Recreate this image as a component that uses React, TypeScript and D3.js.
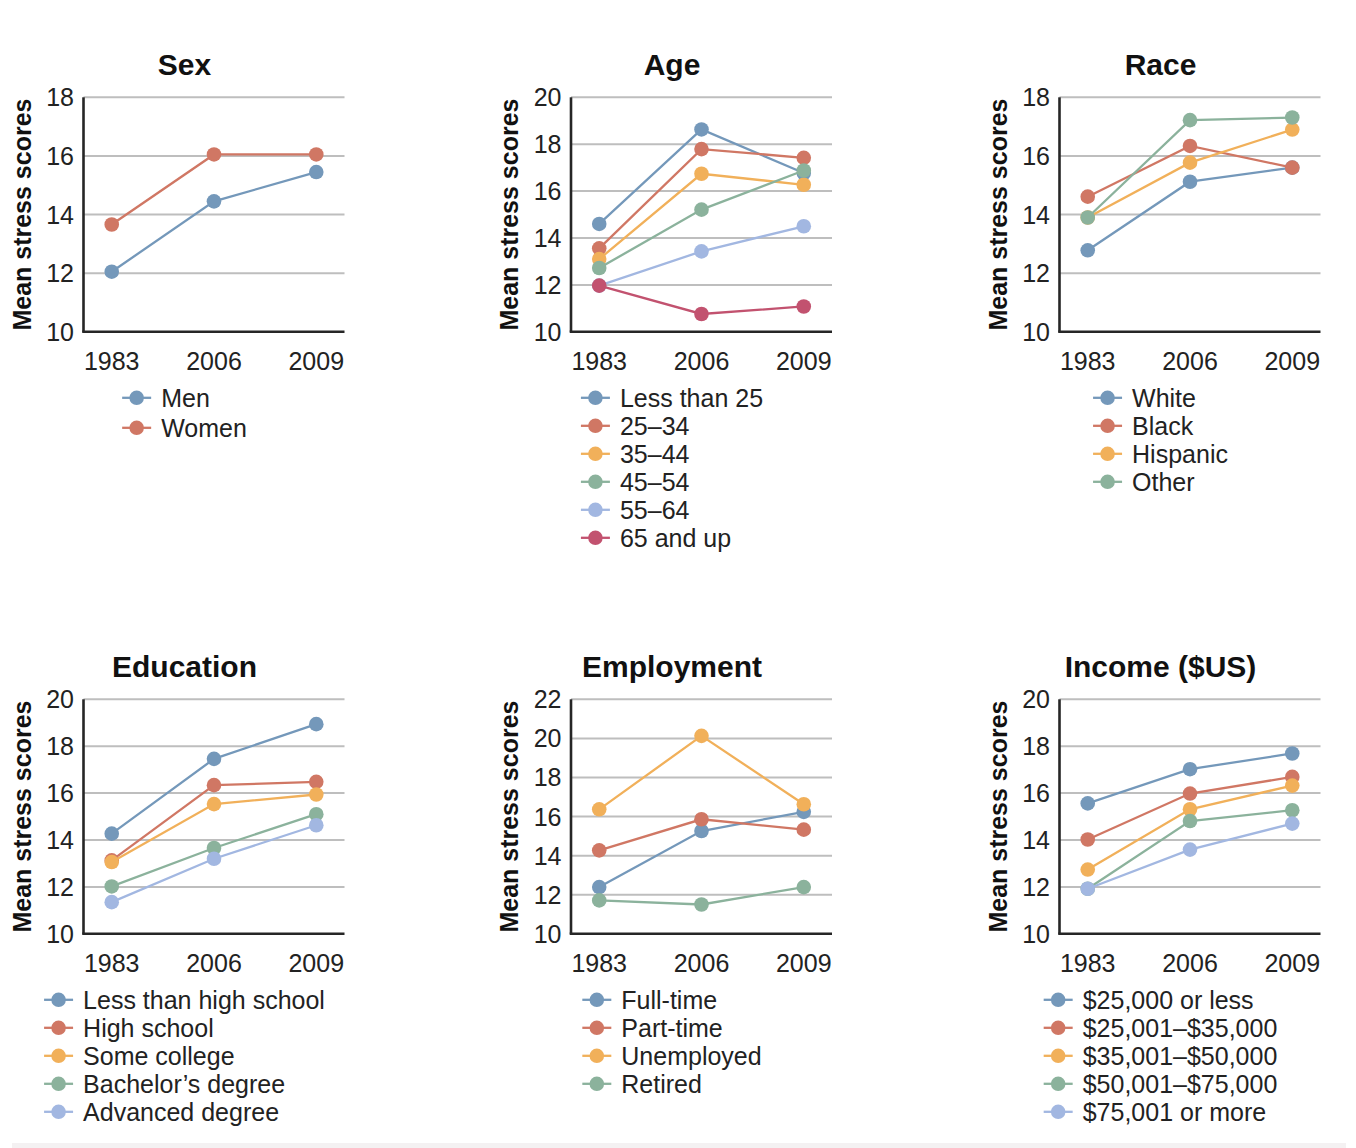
import React, { useEffect, useRef } from "react";
import * as d3 from "d3";

// Survey years on the x axis
const years = ["1983", "2006", "2009"];

// Series palette
const palette = ["#7498ba", "#d07764", "#f1b05a", "#8bb29c", "#a2b7e1", "#c2526f"];

// Sex
const sexLabels = ["Men", "Women"];
const sexValues = [
  [12.05, 14.45, 15.45],
  [13.66, 16.05, 16.05],
];

// Age
const ageLabels = ["Less than 25", "25–34", "35–44", "45–54", "55–64", "65 and up"];
const ageValues = [
  [14.6, 18.63, 16.77],
  [13.56, 17.79, 17.42],
  [13.1, 16.74, 16.27],
  [12.72, 15.21, 16.88],
  [11.97, 13.43, 14.5],
  [11.97, 10.76, 11.08],
];

// Race
const raceLabels = ["White", "Black", "Hispanic", "Other"];
const raceValues = [
  [12.78, 15.12, 15.6],
  [14.61, 16.34, 15.6],
  [13.9, 15.77, 16.9],
  [13.9, 17.22, 17.31],
];

// Education
const eduLabels = [
  "Less than high school",
  "High school",
  "Some college",
  "Bachelor’s degree",
  "Advanced degree",
];
const eduValues = [
  [14.27, 17.46, 18.94],
  [13.13, 16.34, 16.48],
  [13.06, 15.53, 15.94],
  [12.02, 13.66, 15.1],
  [11.35, 13.2, 14.63],
];

// Employment
const empLabels = ["Full-time", "Part-time", "Unemployed", "Retired"];
const empValues = [
  [12.39, 15.26, 16.24],
  [14.27, 15.86, 15.33],
  [16.37, 20.13, 16.63],
  [11.71, 11.5, 12.39],
];

// Income
const incLabels = [
  "$25,000 or less",
  "$25,001–$35,000",
  "$35,001–$50,000",
  "$50,001–$75,000",
  "$75,001 or more",
];
const incValues = [
  [15.56, 17.02, 17.69],
  [14.02, 15.98, 16.69],
  [12.74, 15.31, 16.32],
  [11.92, 14.81, 15.27],
  [11.92, 13.59, 14.7],
];

// Y-axis ranges per panel
const sexTicks = [10, 12, 14, 16, 18];
const ageTicks = [10, 12, 14, 16, 18, 20];
const raceTicks = [10, 12, 14, 16, 18];
const eduTicks = [10, 12, 14, 16, 18, 20];
const empTicks = [10, 12, 14, 16, 18, 20, 22];
const incTicks = [10, 12, 14, 16, 18, 20];

const panels = [
  { title: "Sex", labels: sexLabels, values: sexValues, ticks: sexTicks, col: 0, row: 0, rowGap: 30 },
  { title: "Age", labels: ageLabels, values: ageValues, ticks: ageTicks, col: 1, row: 0, rowGap: 28 },
  { title: "Race", labels: raceLabels, values: raceValues, ticks: raceTicks, col: 2, row: 0, rowGap: 28 },
  { title: "Education", labels: eduLabels, values: eduValues, ticks: eduTicks, col: 0, row: 1, rowGap: 28 },
  { title: "Employment", labels: empLabels, values: empValues, ticks: empTicks, col: 1, row: 1, rowGap: 28 },
  { title: "Income ($US)", labels: incLabels, values: incValues, ticks: incTicks, col: 2, row: 1, rowGap: 28 },
];

const W = 1356;
const H = 1148;
const FONT = "'Liberation Sans', Arial, Helvetica, sans-serif";
const colLefts = [83.5, 571, 1059.5];
const rowTops = [97.3, 699.3];
const plotW = 261;
const plotH = 234.5;

export default function App() {
  const ref = useRef<SVGSVGElement | null>(null);

  useEffect(() => {
    const svg = d3.select(ref.current);
    svg.selectAll("*").remove();

    svg.append("rect").attr("width", W).attr("height", H).attr("fill", "#ffffff");
    svg
      .append("rect")
      .attr("x", 12)
      .attr("y", 1143)
      .attr("width", 1334)
      .attr("height", 5)
      .attr("fill", "#f4f1f2");

    panels.forEach((p) => {
      const left = colLefts[p.col];
      const top = rowTops[p.row];
      const bottom = top + plotH;
      const center = left + 101;

      const x = d3.scalePoint<string>().domain(years).range([left, left + plotW]).padding(0.276);
      const y = d3
        .scaleLinear()
        .domain([p.ticks[0], p.ticks[p.ticks.length - 1]])
        .range([bottom, top]);

      const g = svg.append("g");

      // gridlines
      g.selectAll("line.grid")
        .data(p.ticks.slice(1))
        .join("line")
        .attr("x1", left)
        .attr("x2", left + plotW)
        .attr("y1", (d) => y(d))
        .attr("y2", (d) => y(d))
        .attr("stroke", "#bebebe")
        .attr("stroke-width", 2);

      // axes
      g.append("line")
        .attr("x1", left)
        .attr("x2", left)
        .attr("y1", top)
        .attr("y2", bottom)
        .attr("stroke", "#262626")
        .attr("stroke-width", 2.6);
      g.append("line")
        .attr("x1", left - 1.3)
        .attr("x2", left + plotW)
        .attr("y1", bottom)
        .attr("y2", bottom)
        .attr("stroke", "#262626")
        .attr("stroke-width", 2.6);

      // y tick labels
      g.selectAll("text.yt")
        .data(p.ticks)
        .join("text")
        .attr("x", left - 9.5)
        .attr("y", (d) => y(d))
        .attr("dy", "0.36em")
        .attr("text-anchor", "end")
        .attr("font-family", FONT)
        .attr("font-size", 25)
        .attr("fill", "#222")
        .text((d) => String(d));

      // x tick labels
      g.selectAll("text.xt")
        .data(years)
        .join("text")
        .attr("x", (d) => x(d) as number)
        .attr("y", bottom + 38)
        .attr("text-anchor", "middle")
        .attr("font-family", FONT)
        .attr("font-size", 25)
        .attr("fill", "#222")
        .text((d) => d);

      // title
      g.append("text")
        .attr("x", center)
        .attr("y", top - 22)
        .attr("text-anchor", "middle")
        .attr("font-family", FONT)
        .attr("font-size", 30)
        .attr("font-weight", "bold")
        .attr("fill", "#111")
        .text(p.title);

      // y axis title
      g.append("text")
        .attr("transform", `translate(${left - 62},${(top + bottom) / 2}) rotate(-90)`)
        .attr("dy", "0.36em")
        .attr("text-anchor", "middle")
        .attr("font-family", FONT)
        .attr("font-size", 25)
        .attr("font-weight", "bold")
        .attr("fill", "#111")
        .text("Mean stress scores");

      // series
      const line = d3
        .line<number>()
        .x((_, i) => x(years[i]) as number)
        .y((d) => y(d));

      p.values.forEach((vals, si) => {
        const color = palette[si];
        g.append("path")
          .attr("d", line(vals))
          .attr("fill", "none")
          .attr("stroke", color)
          .attr("stroke-width", 2.3);
        g.selectAll(`circle.s${si}`)
          .data(vals)
          .join("circle")
          .attr("cx", (_, i) => x(years[i]) as number)
          .attr("cy", (d) => y(d))
          .attr("r", 7.3)
          .attr("fill", color);
      });

      // legend
      const lg = g.append("g");
      const firstRow = bottom + 66;
      p.labels.forEach((lab, si) => {
        const color = palette[si];
        const ry = firstRow + si * p.rowGap;
        lg.append("line")
          .attr("x1", 0)
          .attr("x2", 29)
          .attr("y1", ry)
          .attr("y2", ry)
          .attr("stroke", color)
          .attr("stroke-width", 2.3);
        lg.append("circle").attr("cx", 14.5).attr("cy", ry).attr("r", 7.3).attr("fill", color);
        lg.append("text")
          .attr("x", 39)
          .attr("y", ry)
          .attr("dy", "0.36em")
          .attr("font-family", FONT)
          .attr("font-size", 25)
          .attr("fill", "#222")
          .text(lab);
      });
      const bb = (lg.node() as SVGGElement).getBBox();
      lg.attr("transform", `translate(${center - bb.width / 2},0)`);
    });
  }, []);

  return (
    <svg
      ref={ref}
      width={W}
      height={H}
      style={{ position: "absolute", left: 0, top: 0, display: "block" }}
    />
  );
}
